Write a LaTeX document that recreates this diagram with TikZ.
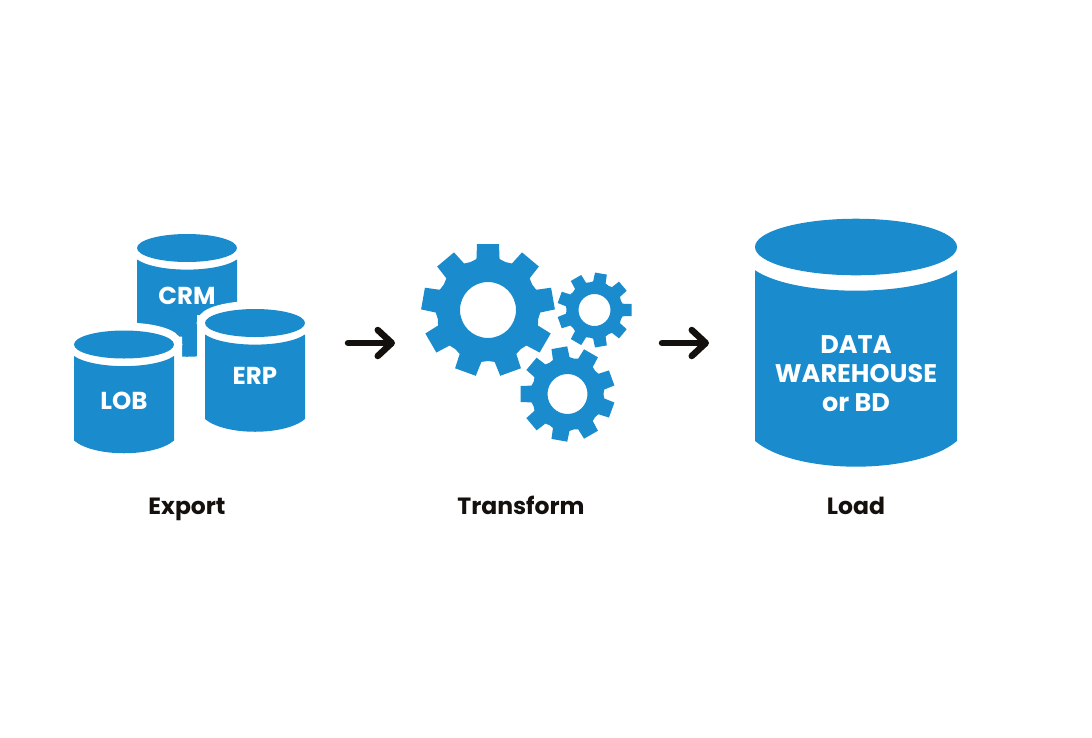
\documentclass[tikz,border=0pt]{standalone}
\usepackage{fontspec}
\setmainfont{Poppins}
\usetikzlibrary{arrows.meta}

\definecolor{dbblue}{HTML}{1A8BCC}
\definecolor{inkblack}{HTML}{14100E}

\tikzset{
  dbtext/.style={text=white, font=\bfseries\fontsize{24.5}{29}\selectfont, align=center, inner sep=0pt},
  bigdbtext/.style={dbtext, font=\bfseries\fontsize{25.5}{29}\selectfont},
  steptext/.style={text=inkblack, font=\bfseries\fontsize{23.5}{25}\selectfont, inner sep=0pt, anchor=base},
  groupbox/.style={minimum height=20pt, inner sep=0pt, outer sep=0pt},
  flowarrow/.style={draw=inkblack, line width=6.5pt, line cap=round, -{Straight Barb[length=14pt, width=26pt, round]}},
  pics/dbcyl/.style={code={
    \path[draw=white, fill=white, line width=16pt] (0,0) ellipse (50 and 14) (-50,0) rectangle (50,96);
    \fill[dbblue] (0,0) ellipse (50 and 14);
    \fill[dbblue] (-50,11.5) .. controls (-30,25) and (30,25) .. (50,11.5) -- (50,96) .. controls (30,113) and (-30,113) .. (-50,96) -- cycle;
  }},
  pics/gearwheel/.style n args={5}{code={
    \fill[dbblue, even odd rule] ([rotate=#1]#3,#5*1.05)
      \foreach \a in {0,40,...,320} {
        -- ([rotate=#1+\a]#3,#5*1.05) -- ([rotate=#1+\a]#2,#5) -- ([rotate=#1+\a]#2,-#5) -- ([rotate=#1+\a]#3,-#5*1.05) -- ([rotate=#1+\a+20]#3,0)
      } -- cycle (0,0) circle (#4);
  }},
}

\begin{document}
\begin{tikzpicture}[x=1pt, y=-1pt]

\useasboundingbox (0,0) rectangle (1092,737);

% Export
\pic at (187,248) {dbcyl};
\pic at (124,344.5) {dbcyl};
\pic at (255,323) {dbcyl};
\node[dbtext] (crm) at (187,296) {CRM};
\node[dbtext] (lob) at (124,401) {LOB};
\node[dbtext] (erp) at (255,376) {ERP};

% Transform
\pic at (488,310) {gearwheel={90}{66}{51}{28}{11}};
\pic at (594.5,310) {gearwheel={0}{37}{28}{16}{6}};
\pic at (567.5,394) {gearwheel={20}{47}{36}{20}{8}};

% Load
\pic[scale=2.02] at (856,247) {dbcyl};
\node[bigdbtext] (warehouse) at (856,374) {DATA\\WAREHOUSE\\or BD};

% Step labels
\node[steptext] (export) at (187,514) {Export};
\node[steptext] (transform) at (521,514) {Transform};
\node[steptext] (load) at (856,514) {Load};

% Arrows
\node[groupbox, minimum width=231pt] (exportbox) at (189.5,343) {};
\node[groupbox, minimum width=211pt] (gearbox) at (526.5,343) {};
\node[groupbox, minimum width=202pt] (loadbox) at (856,343) {};
\draw[flowarrow, shorten <=43pt, shorten >=26pt] (exportbox.east) -- (gearbox.west);
\draw[flowarrow, shorten <=30pt, shorten >=46pt] (gearbox.east) -- (loadbox.west);

\end{tikzpicture}
\end{document}
